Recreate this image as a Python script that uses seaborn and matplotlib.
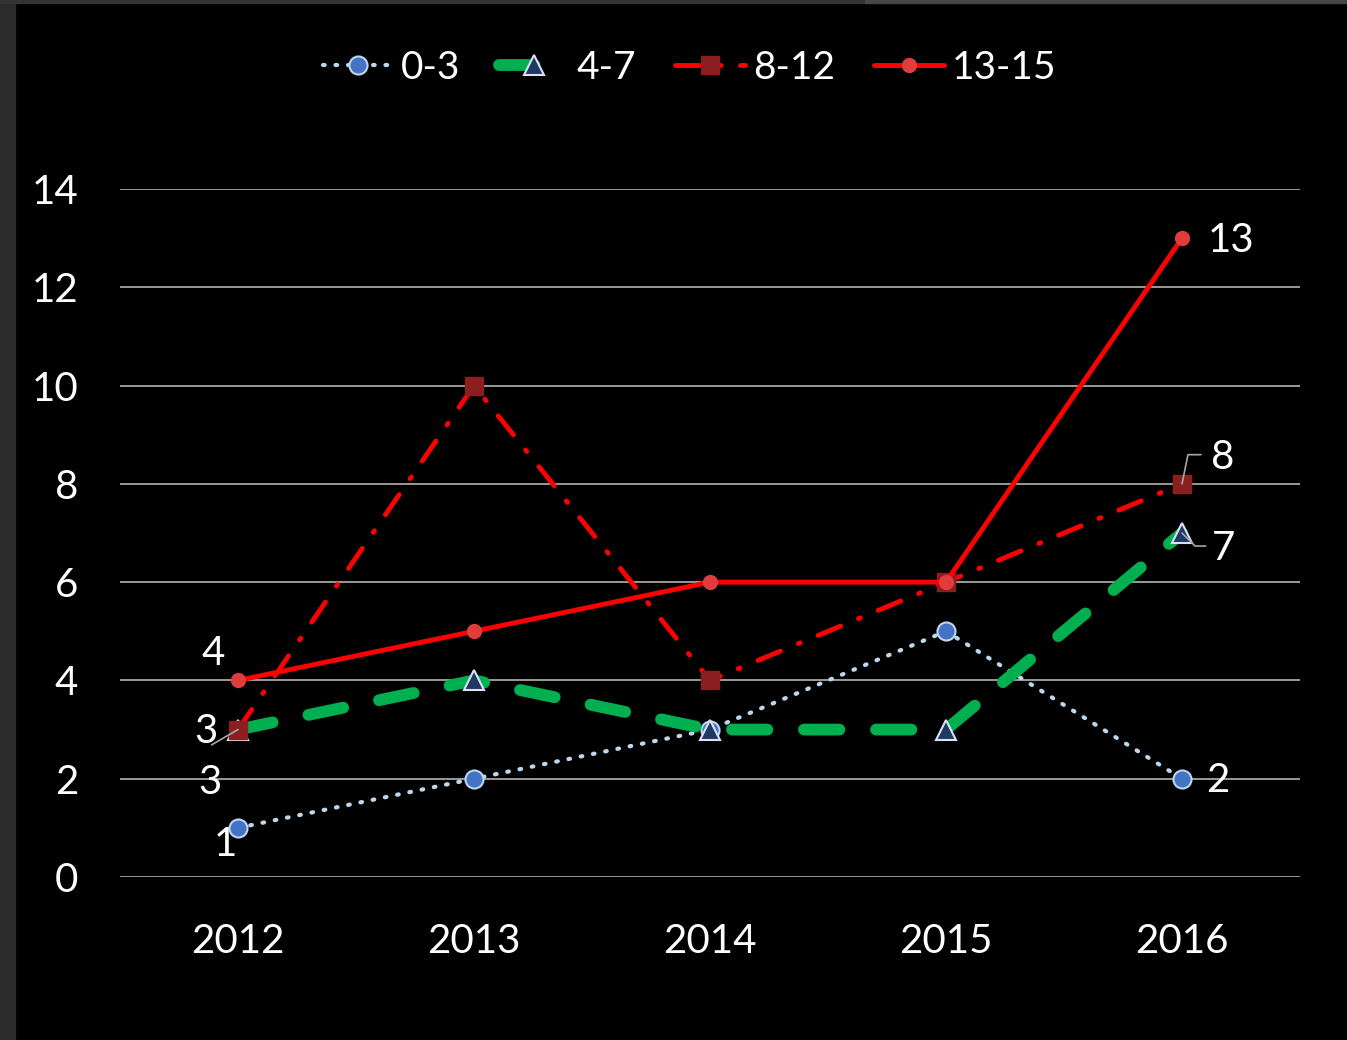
import numpy as np
import pandas as pd
import matplotlib
matplotlib.use("Agg")
import matplotlib.pyplot as plt
import matplotlib.patches as mpatches
import matplotlib.transforms as mtransforms
import seaborn as sns

# chart data
years = ["2012", "2013", "2014", "2015", "2016"]
s_0_3 = [1, 2, 3, 5, 2]
s_4_7 = [3, 4, 3, 3, 7]
s_8_12 = [3, 10, 4, 6, 8]
s_13_15 = [4, 5, 6, 6, 13]
series_names = ["0-3", "4-7", "8-12", "13-15"]
y_ticks = [0, 2, 4, 6, 8, 10, 12, 14]

sns.set_theme(style="dark")
plt.rcParams["font.family"] = ["Lato", "DejaVu Sans"]

fig = plt.figure(figsize=(13.47, 10.40), dpi=100, facecolor="black")
# dark frame strips of the screenshot
fig.patches.append(mpatches.Rectangle((0, 0), 15 / 1347, 1, transform=fig.transFigure,
                                      color="#2b2b2b", zorder=0))
fig.patches.append(mpatches.Rectangle((0, 1 - 3 / 1040), 865 / 1347, 3 / 1040,
                                      transform=fig.transFigure, color="#333333", zorder=0))
fig.patches.append(mpatches.Rectangle((865 / 1347, 1 - 3 / 1040), 1, 3 / 1040,
                                      transform=fig.transFigure, color="#474747", zorder=0))

ax = fig.add_axes([120 / 1347, 163 / 1040, 1180 / 1347, 688 / 1040])
ax.set_facecolor("black")

styles = {
    "0-3": dict(color="#bdd7ee", lw=3, dashes=(0.4, 2.6), marker="o", ms=13,
                mfc="#4472c4", mec="#bdd7ee", mew=1.5),
    "4-7": dict(color="#00b050", lw=8.5, dashes=(3.0, 3.1), marker="^", ms=15,
                mfc="#203864", mec="#d9e1f2", mew=1.5),
    "8-12": dict(color="#ff0000", lw=3.5, dashes=(5, 4, 0.4, 4), marker="s", ms=13,
                 mfc="#8b1f1f", mec="#8b1f1f", mew=1),
    "13-15": dict(color="#ff0000", lw=3.5, dashes=(None, None), marker="o", ms=10,
                  mfc="#e03c3c", mec="#e03c3c", mew=1),
}
data = {"0-3": s_0_3, "4-7": s_4_7, "8-12": s_8_12, "13-15": s_13_15}

for name in series_names:
    st = styles[name]
    kw = dict(color=st["color"], linewidth=st["lw"], marker=st["marker"],
              markersize=st["ms"], markerfacecolor=st["mfc"],
              markeredgecolor=st["mec"], markeredgewidth=st["mew"],
              label=name, solid_capstyle="round", dash_capstyle="round")
    if st["dashes"][0] is not None:
        kw["dashes"] = st["dashes"]
    sns.lineplot(x=years, y=data[name], ax=ax, sort=False, **kw)

ax.set_xlim(-0.5, 4.5)
ax.set_ylim(0, 14)
ax.set_yticks(y_ticks)
ax.grid(axis="y", color="#a6a6a6", lw=1.3)
ax.grid(axis="x", visible=False)
ax.set_axisbelow(True)
for sp in ax.spines.values():
    sp.set_visible(False)
ax.tick_params(axis="both", length=0, colors="white", labelsize=29, pad=30)
ax.tick_params(axis="x", pad=33)
ax.set_xlabel("")
ax.set_ylabel("")

# data labels
lab_kw = dict(textcoords="offset points", color="white", fontsize=29,
              ha="center", va="center")
ax.annotate(str(s_0_3[0]), (0, s_0_3[0]), xytext=(-9, -12), **lab_kw)
ax.annotate(str(s_0_3[4]), (4, s_0_3[4]), xytext=(26, -1), **lab_kw)
ax.annotate(str(s_4_7[0]), (0, s_4_7[0]), xytext=(-20, -38), **lab_kw)
ax.annotate(str(s_4_7[4]), (4, s_4_7[4]), xytext=(30, -11), **lab_kw)
ax.annotate(str(s_8_12[0]), (0, s_8_12[0]), xytext=(-23, -1.5), **lab_kw)
ax.annotate(str(s_8_12[4]), (4, s_8_12[4]), xytext=(29, 19), **lab_kw)
ax.annotate(str(s_13_15[0]), (0, s_13_15[0]), xytext=(-18, 19.5), **lab_kw)
ax.annotate(str(s_13_15[4]), (4, s_13_15[4]), xytext=(35, -1.5), **lab_kw)


# leader lines: polylines given in point offsets from a data point
def leader(xd, yd, offs):
    x0, y0 = ax.transData.transform((xd, yd))
    tr = mtransforms.Affine2D().scale(fig.dpi / 72).translate(x0, y0)
    ox = [o[0] for o in offs]
    oy = [o[1] for o in offs]
    ax.add_line(plt.Line2D(ox, oy, transform=tr, color="#a6a6a6", lw=1.2, zorder=5))


leader(0, s_8_12[0], [(0, 0), (-19, -11)])
leader(4, s_8_12[4], [(0, 0), (4.3, 21), (13.7, 21)])
leader(4, s_4_7[4], [(0, 0), (9.4, -9.4), (17, -9.4)])

leg = ax.legend(loc="center", bbox_to_anchor=(0.512, 0.9346), bbox_transform=fig.transFigure,
                ncol=4, frameon=False, fontsize=28, handlelength=1.8, handletextpad=0.2,
                columnspacing=1.0, labelcolor="white")

fig.savefig("out.png", dpi=100, facecolor="black")
